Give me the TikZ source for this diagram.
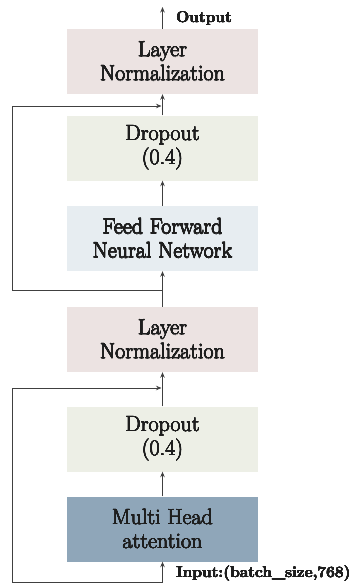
\documentclass[tikz,border=0pt]{standalone}
\usetikzlibrary{arrows.meta,positioning}
\usepackage{contour}
\contourlength{0.16pt}
\contournumber{12}
\definecolor{lncol}{HTML}{ECE3E2}
\definecolor{docol}{HTML}{EDEFE6}
\definecolor{ffcol}{HTML}{E7EDF1}
\definecolor{mhcol}{HTML}{8FA6B9}
\definecolor{linecol}{HTML}{404040}
\definecolor{txtcol}{HTML}{1E1E1E}
\newcommand{\thk}[1]{\contour{txtcol}{#1}}
\begin{document}
\begin{tikzpicture}[x=1pt,y=-1pt,
  blk/.style={minimum width=191pt,minimum height=65pt,inner sep=0pt,align=center,
    text=txtcol,font=\fontsize{22}{24}\selectfont},
  conn/.style={draw=linecol,line width=0.9pt},
  arr/.style={conn,-{Stealth[length=5.5pt,width=4.5pt]}},
  lbl/.style={anchor=west,inner sep=0pt,text=txtcol,font=\fontsize{15.5}{18}\bfseries\selectfont}]
\useasboundingbox (0,0) rectangle (352,587);
\node[blk,fill=lncol] (ln1) at (162.5,61.5) {\thk{Layer}\\\thk{Normalization}};
\node[blk,fill=docol] (do1) at (162.5,148) {\thk{Dropout}\\\thk{(0.4)}};
\node[blk,fill=ffcol] (ff) at (162.5,238.5) {\thk{Feed Forward}\\\thk{Neural Network}};
\node[blk,fill=lncol] (ln2) at (162.5,339.5) {\thk{Layer}\\\thk{Normalization}};
\node[blk,fill=docol] (do2) at (162.5,439) {\thk{Dropout}\\\thk{(0.4)}};
\node[blk,fill=mhcol] (mh) at (162.5,529) {\thk{Multi Head}\\\thk{attention}};
\coordinate (out) at (162.5,7);
\coordinate (in) at (162.5,582);
\coordinate (j1) at (162.5,290);
\coordinate (s1) at (161.5,106);
\coordinate (s2) at (161.5,388);
\node[lbl] (outl) at (176,19) {\thk{Output}};
\node[lbl] (inl) at (176,574) {\thk{Input:(batch\_size,768)}};
% arrows
\draw[arr] (ln1.north) -- (out);
\draw[arr] (do1.north) -- (ln1.south);
\draw[arr] (ff.north) -- (do1.south);
\draw[arr] (ln2.north) -- (ff.south);
\draw[arr] (do2.north) -- (ln2.south);
\draw[arr] (mh.north) -- (do2.south);
\draw[arr] (in) -- (mh.south);
% skip connections
\draw[arr] (j1) -- (12,290) -- (12,106) -- (s1);
\draw[arr] (in) -- (12,582) -- (12,388) -- (s2);
\end{tikzpicture}
\end{document}
